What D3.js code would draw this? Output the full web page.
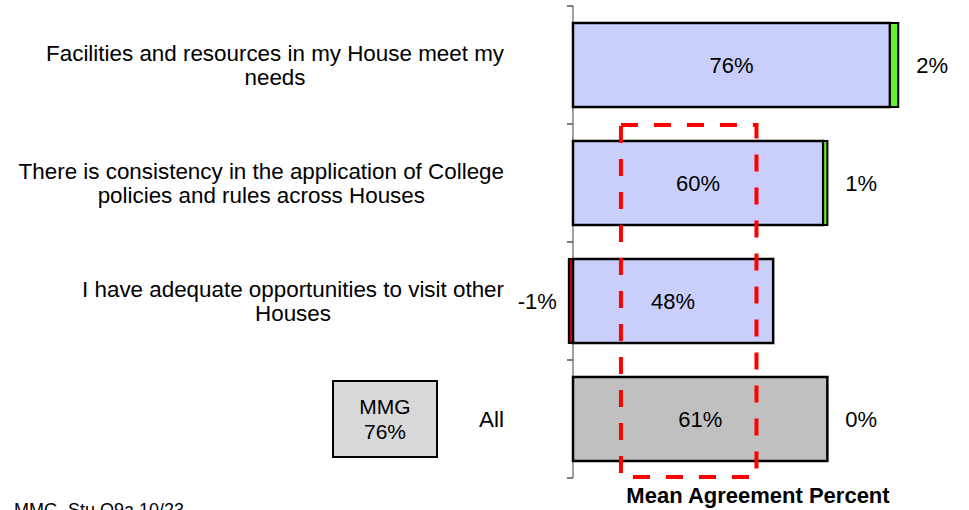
<!DOCTYPE html>
<html>
<head>
<meta charset="utf-8">
<script src="https://cdn.jsdelivr.net/npm/d3@7"></script>
<style>
  body { margin: 0; background: #fff; }
  svg { display: block; font-family: "Liberation Sans", Arial, sans-serif; }
</style>
</head>
<body>
<div id="vis"></div>
<script>
// chart data
const categories = ["facilities", "consistency", "visit", "all"];
const categoryLines = [
  ["Facilities and resources in my House meet my", "needs"],
  ["There is consistency in the application of College", "policies and rules across Houses"],
  ["I have adequate opportunities to visit other", "Houses"],
  ["All"]
];
const meanValues = [76, 60, 48, 61];
const changeValues = [2, 1, -1, 0];
const mmgValue = 76;
const highlightRange = [11.5, 44];

const width = 969;
const height = 510;

const svg = d3.select("#vis")
  .append("svg")
  .attr("width", width)
  .attr("height", height);

// scales
const x = d3.scaleLinear().domain([0, 100]).range([573, 990]);
const y = d3.scaleBand()
  .domain(categories)
  .range([6, 478])
  .paddingInner(0.288)
  .paddingOuter(0.144);

const fs = 22;

// axis line + ticks at the band boundaries
svg.append("line")
  .attr("x1", x(0)).attr("x2", x(0))
  .attr("y1", y.range()[0]).attr("y2", y.range()[1])
  .attr("stroke", "#808080")
  .attr("stroke-width", 1.5);

const tickYs = categories.map(c => y(c) - y.step() * y.paddingOuter()).concat([y.range()[1]]);
svg.selectAll(".tick")
  .data(tickYs)
  .enter()
  .append("line")
  .attr("class", "tick")
  .attr("x1", x(0) - 6).attr("x2", x(0))
  .attr("y1", d => d).attr("y2", d => d)
  .attr("stroke", "#555")
  .attr("stroke-width", 1.5);

// main bars
const rows = categories.map((c, i) => ({
  key: c,
  lines: categoryLines[i],
  mean: meanValues[i],
  change: changeValues[i],
  isTotal: i === categories.length - 1
}));

svg.selectAll(".bar")
  .data(rows)
  .enter()
  .append("rect")
  .attr("class", "bar")
  .attr("x", x(0))
  .attr("y", d => y(d.key))
  .attr("width", d => x(d.mean) - x(0))
  .attr("height", y.bandwidth())
  .attr("fill", d => d.isTotal ? "#c0c0c0" : "#c9cffa")
  .attr("stroke", "#000")
  .attr("stroke-width", 2.5);

// change segments (green for gains, red for losses)
svg.selectAll(".chg")
  .data(rows.filter(d => d.change !== 0))
  .enter()
  .append("rect")
  .attr("class", "chg")
  .attr("x", d => d.change > 0 ? x(d.mean) : x(d.change))
  .attr("y", d => y(d.key))
  .attr("width", d => Math.abs(x(d.change) - x(0)))
  .attr("height", y.bandwidth())
  .attr("fill", d => d.change > 0 ? "#66ee33" : "#cc0000")
  .attr("stroke", "#000")
  .attr("stroke-width", 2);

// value labels inside bars
svg.selectAll(".val")
  .data(rows)
  .enter()
  .append("text")
  .attr("class", "val")
  .attr("x", d => x(d.mean / 2))
  .attr("y", d => y(d.key) + y.bandwidth() / 2)
  .attr("dy", "0.35em")
  .attr("text-anchor", "middle")
  .style("font-size", fs + "px")
  .text(d => d.mean + "%");

// change labels
svg.selectAll(".chgLabel")
  .data(rows)
  .enter()
  .append("text")
  .attr("class", "chgLabel")
  .attr("x", d => d.change < 0 ? x(d.change) - 12 : x(d.mean + d.change) + 18)
  .attr("y", d => y(d.key) + y.bandwidth() / 2)
  .attr("dy", "0.35em")
  .attr("text-anchor", d => d.change < 0 ? "end" : "start")
  .style("font-size", fs + "px")
  .text(d => d.change + "%");

// category labels, centred block with right edge at labelRight
const labelRight = 504;
rows.forEach(d => {
  const g = svg.append("g");
  const n = d.lines.length;
  const cy = y(d.key) + y.bandwidth() / 2;
  const texts = d.lines.map((line, j) =>
    g.append("text")
      .attr("y", cy + (j - (n - 1) / 2) * 24)
      .attr("dy", "0.35em")
      .attr("text-anchor", "middle")
      .style("font-size", "22.4px")
      .text(line)
  );
  const maxW = d3.max(texts, t => t.node().getComputedTextLength());
  texts.forEach(t => t.attr("x", labelRight - maxW / 2));
});

// highlight box (dashed red)
svg.append("rect")
  .attr("x", x(highlightRange[0]))
  .attr("y", y(categories[1]) - y.step() * y.paddingOuter() + 1)
  .attr("width", x(highlightRange[1]) - x(highlightRange[0]))
  .attr("height", y.range()[1] - (y(categories[1]) - y.step() * y.paddingOuter()) - 2)
  .attr("fill", "none")
  .attr("stroke", "#ff0000")
  .attr("stroke-width", 4)
  .attr("stroke-dasharray", "17,16");

// MMG box
const allCy = y("all") + y.bandwidth() / 2;
svg.append("rect")
  .attr("x", 333)
  .attr("y", allCy - 38)
  .attr("width", 104)
  .attr("height", 76)
  .attr("fill", "#d9d9d9")
  .attr("stroke", "#000")
  .attr("stroke-width", 2);

svg.append("text")
  .attr("x", 385)
  .attr("y", allCy - 12)
  .attr("dy", "0.35em")
  .attr("text-anchor", "middle")
  .style("font-size", "21px")
  .text("MMG");

svg.append("text")
  .attr("x", 385)
  .attr("y", allCy + 13)
  .attr("dy", "0.35em")
  .attr("text-anchor", "middle")
  .style("font-size", "21px")
  .text(mmgValue + "%");

// axis title
svg.append("text")
  .attr("x", 758)
  .attr("y", 503)
  .attr("text-anchor", "middle")
  .style("font-size", fs + "px")
  .style("font-weight", "bold")
  .text("Mean Agreement Percent");

// footnote
svg.append("text")
  .attr("x", 14)
  .attr("y", 516)
  .style("font-size", "18px")
  .text("MMG_Stu Q9a 10/23");
</script>
</body>
</html>
